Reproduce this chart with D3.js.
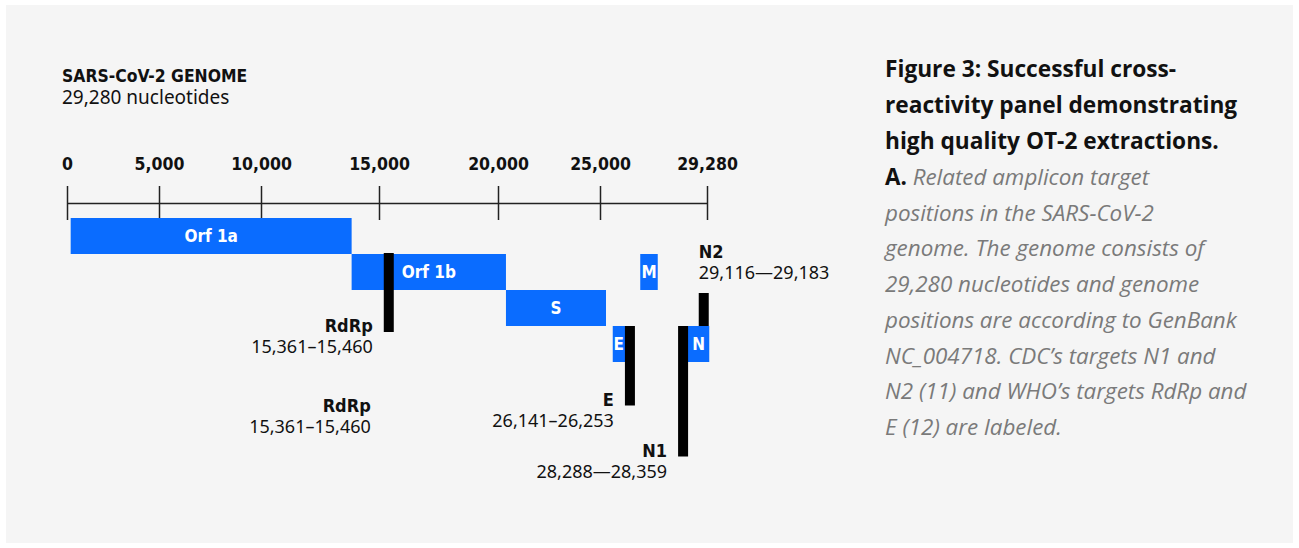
<!DOCTYPE html>
<html>
<head>
<meta charset="utf-8">
<script src="https://cdn.jsdelivr.net/npm/d3@7"></script>
<style>
  html, body { margin: 0; padding: 0; background: #ffffff; }
  svg { display: block; }
  .cond { font-family: "DejaVu Sans Condensed", "DejaVu Sans", sans-serif; font-stretch: condensed; font-weight: bold; }
  .sans { font-family: "Noto Sans", "Open Sans", sans-serif; }
  .open { font-family: "Open Sans", "Noto Sans", sans-serif; }
</style>
</head>
<body>
<svg id="chart" width="1299" height="548"></svg>
<script>
// Genome map: gene blocks and PCR target amplicons on the SARS-CoV-2 genome
const genomeLength = 29280;
const tickValues = [0, 5000, 10000, 15000, 20000, 25000, 29280];

const genes = ["Orf 1a", "Orf 1b", "S", "M", "E", "N"];
const geneStart = [200, 13840, 20390, 26610, 25510, 28400];
const geneEnd = [13840, 20390, 25240, 27310, 26130, 29370];
const geneLane = [0, 1, 2, 1, 3, 3];

const targets = ["RdRp", "E", "N1", "N2"];
const targetStart = [15361, 26141, 28288, 29116];
const targetEnd = [15460, 26253, 28359, 29183];
const targetDash = ["\u2013", "\u2013", "\u2014", "\u2014"];

const captionTitle = [
  "Figure 3: Successful cross-",
  "reactivity panel demonstrating",
  "high quality OT-2 extractions."
];
const captionBody = [
  "Related amplicon target",
  "positions in the SARS-CoV-2",
  "genome. The genome consists of",
  "29,280 nucleotides and genome",
  "positions are according to GenBank",
  "NC_004718. CDC\u2019s targets N1 and",
  "N2 (11) and WHO\u2019s targets RdRp and",
  "E (12) are labeled."
];

const svg = d3.select("#chart");
const fmt = d3.format(",");
const blue = "#0a6cff";

// panel
svg.append("rect").attr("x", 6).attr("y", 5).attr("width", 1287).attr("height", 538).attr("fill", "#f5f5f5");

// heading
svg.append("text").attr("class", "cond").attr("x", 62).attr("y", 81.5)
  .attr("font-size", 17.4).attr("fill", "#111").text("SARS-CoV-2 GENOME");
svg.append("text").attr("class", "sans").attr("x", 62).attr("y", 104)
  .attr("font-size", 19).attr("fill", "#111").text(fmt(genomeLength) + " nucleotides");

// piecewise genome-position scale (schematic spacing between ticks)
const x = d3.scaleLinear().domain(tickValues).range([67, 159, 261, 379, 498, 600, 707]);
const laneY = d3.scaleLinear().domain([0, 1]).range([218, 254]);
const laneH = 36;

// axis
const axisG = svg.append("g").attr("transform", "translate(0,203)")
  .call(d3.axisTop(x).tickValues(tickValues).tickFormat(fmt).tickSize(17).tickSizeOuter(0).tickPadding(16));
axisG.select(".domain").attr("stroke", "#222").attr("stroke-width", 1.5);
axisG.selectAll(".tick line").attr("y1", -17).attr("y2", 17).attr("stroke", "#222").attr("stroke-width", 1.5);
axisG.selectAll(".tick text").attr("class", "cond").attr("font-size", 17.5).attr("fill", "#111");
axisG.attr("font-family", null).attr("font-size", null);

// gene blocks
const geneData = genes.map((g, i) => ({ name: g, start: geneStart[i], end: geneEnd[i], lane: geneLane[i] }));
const geneG = svg.append("g");
geneG.selectAll("rect").data(geneData).join("rect")
  .attr("x", d => x(d.start)).attr("y", d => laneY(d.lane))
  .attr("width", d => x(d.end) - x(d.start)).attr("height", laneH)
  .attr("fill", blue);

// target amplicons (drawn with a minimum visible width)
const minW = 10;
const targetLayout = {
  RdRp: { top: laneY(1) - 1, bottom: 332 },
  E: { top: laneY(3), bottom: 405.5 },
  N1: { top: laneY(3), bottom: 456.5 },
  N2: { top: laneY(2) + 3, bottom: laneY(3) }
};
const targetData = targets.map((t, i) => {
  const mid = (x(targetStart[i]) + x(targetEnd[i])) / 2;
  const w = Math.max(minW, x(targetEnd[i]) - x(targetStart[i]));
  return { name: t, start: targetStart[i], end: targetEnd[i], dash: targetDash[i],
           x0: mid - w / 2, w: w, ...targetLayout[t] };
});

// gene labels (centred in the visible part of each block)
geneG.selectAll("text").data(geneData).join("text")
  .attr("class", "cond")
  .attr("x", d => {
    let a = x(d.start), b = x(d.end);
    targetData.forEach(t => {
      if (t.top <= laneY(d.lane) + 1 && t.bottom >= laneY(d.lane) + laneH - 1) {
        if (t.x0 <= a + 1 && t.x0 + t.w > a) a = t.x0 + t.w;
        else if (t.x0 + t.w >= b - 1 && t.x0 < b) b = t.x0;
      }
    });
    return (a + b) / 2;
  })
  .attr("y", d => laneY(d.lane) + laneH / 2 + 6)
  .attr("text-anchor", "middle").attr("font-size", 17).attr("fill", "#fff")
  .text(d => d.name);

svg.append("g").selectAll("rect").data(targetData).join("rect")
  .attr("x", d => d.x0).attr("y", d => d.top)
  .attr("width", d => d.w).attr("height", d => d.bottom - d.top)
  .attr("fill", "#000");

const rangeText = d => fmt(d.start) + d.dash + fmt(d.end);
const labelG = svg.append("g");
targetData.forEach(d => {
  if (d.name === "N2") {
    labelG.append("text").attr("class", "cond").attr("x", d.x0).attr("y", d.top - 35)
      .attr("font-size", 18).attr("fill", "#111").text(d.name);
    labelG.append("text").attr("class", "sans").attr("x", d.x0).attr("y", d.top - 14)
      .attr("font-size", 18).attr("fill", "#111").text(rangeText(d));
  } else {
    const ax = d.x0 - 11;
    labelG.append("text").attr("class", "cond").attr("x", ax).attr("y", d.bottom)
      .attr("text-anchor", "end").attr("font-size", 18).attr("fill", "#111").text(d.name);
    labelG.append("text").attr("class", "sans").attr("x", ax).attr("y", d.bottom + 21)
      .attr("text-anchor", "end").attr("font-size", 18).attr("fill", "#111").text(rangeText(d));
  }
});
// repeated RdRp annotation below
const rd = targetData[0];
labelG.append("text").attr("class", "cond").attr("x", rd.x0 - 13).attr("y", 412)
  .attr("text-anchor", "end").attr("font-size", 18).attr("fill", "#111").text(rd.name);
labelG.append("text").attr("class", "sans").attr("x", rd.x0 - 13).attr("y", 433)
  .attr("text-anchor", "end").attr("font-size", 18).attr("fill", "#111").text(rangeText(rd));

// caption
const cap = svg.append("g").attr("class", "open");
cap.selectAll("text.t").data(captionTitle).join("text").attr("class", "t")
  .attr("x", 885).attr("y", (d, i) => 77 + i * 36)
  .attr("font-size", 22.7).attr("font-weight", "bold").attr("fill", "#111").text(d => d);
const lineH = 35.7;
cap.selectAll("text.b").data(captionBody).join("text").attr("class", "b")
  .attr("x", 885).attr("y", (d, i) => 185 + i * lineH)
  .attr("font-size", 22.4).each(function (d, i) {
    const t = d3.select(this);
    if (i === 0) {
      t.append("tspan").attr("font-weight", "bold").attr("fill", "#111").text("A. ");
    }
    t.append("tspan").attr("font-style", "italic").attr("fill", "#7a7a7a").text(d);
  });
</script>
</body>
</html>
